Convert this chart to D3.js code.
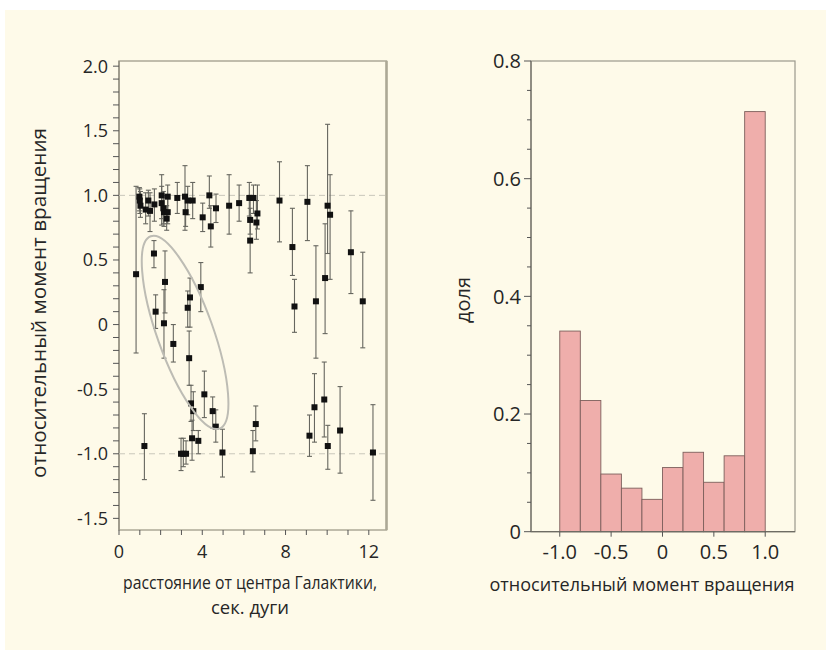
<!DOCTYPE html>
<html><head><meta charset="utf-8">
<script src="https://cdn.jsdelivr.net/npm/d3@7"></script>
<style>body{margin:0;background:#fff}</style>
</head><body><svg id="c" width="826" height="654"></svg>
<script>
// ---- data: left panel (distance, relative angular momentum, error bar bounds)
const pointX = [0.98,1.00,1.03,1.28,1.41,1.49,1.70,2.05,2.05,2.13,2.16,2.34,2.34,2.29,2.80,3.17,3.20,3.30,3.54,4.02,4.34,4.41,4.66,5.29,5.77,6.26,6.30,6.30,6.46,6.65,6.60,7.71,8.33,8.43,9.05,9.46,9.90,10.02,10.14,11.14,11.71,
  0.82,1.68,2.21,1.76,2.16,2.61,3.93,3.41,3.30,3.37,
  3.46,3.57,4.10,4.50,4.65,3.51,3.81,2.98,3.09,3.22,4.97,1.22,6.43,6.57,9.15,9.39,9.86,10.03,10.62,12.20];
const pointY = [0.99,0.96,0.92,0.89,0.96,0.88,0.93,1.00,0.94,0.90,0.87,0.99,0.87,0.82,0.98,0.99,0.87,0.96,0.96,0.83,1.00,0.76,0.90,0.92,0.94,0.98,0.81,0.65,0.98,0.86,0.79,0.96,0.60,0.14,0.95,0.18,0.36,0.92,0.85,0.56,0.18,
  0.39,0.55,0.33,0.10,0.01,-0.15,0.29,0.21,0.13,-0.26,
  -0.61,-0.67,-0.54,-0.67,-0.79,-0.88,-0.90,-1.00,-1.00,-1.00,-0.99,-0.94,-0.98,-0.77,-0.86,-0.64,-0.58,-0.94,-0.82,-0.99];
const errLow = [0.88,0.86,0.83,0.78,0.84,0.72,0.80,0.77,0.82,0.78,0.76,0.88,0.78,0.73,0.86,0.73,0.76,0.85,0.82,0.72,0.90,0.60,0.79,0.70,0.80,0.84,0.70,0.40,0.86,0.74,0.66,0.64,0.38,-0.06,0.65,-0.26,-0.07,0.55,0.35,0.24,-0.18,
  -0.22,0.44,0.09,-0.03,-0.26,-0.29,0.10,-0.02,-0.02,-0.47,
  -0.75,-0.82,-0.72,-0.80,-0.91,-1.05,-1.00,-1.13,-1.10,-1.08,-1.18,-1.20,-1.14,-0.90,-1.02,-0.91,-0.87,-1.12,-1.15,-1.36];
const errHigh = [1.06,1.05,1.03,1.02,1.04,1.02,1.05,1.16,1.07,1.03,1.00,1.08,0.98,0.92,1.10,1.23,0.98,1.07,1.10,0.94,1.15,0.92,1.01,1.16,1.08,1.10,1.00,0.90,1.08,1.08,0.96,1.26,0.90,0.35,1.23,0.61,0.78,1.55,1.16,0.88,0.56,
  1.07,0.65,0.57,0.23,0.27,0.00,0.48,0.36,0.26,-0.05,
  -0.47,-0.52,-0.36,-0.56,-0.66,-0.74,-0.82,-0.88,-0.88,-0.90,-0.81,-0.69,-0.82,-0.63,-0.70,-0.38,-0.29,-0.78,-0.48,-0.62];
const refLines = [1.0, -1.0];
const ellipseEnds = [[1.59, 0.654], [4.76, -0.776]];
const leftYTicks = [-1.5,-1.0,-0.5,0,0.5,1.0,1.5,2.0];
const leftYTickLabels = ["-1.5","-1.0","-0.5","0","0.5","1.0","1.5","2.0"];
const leftXTicks = [0,4,8,12];
const leftXTickLabels = ["0","4","8","12"];

// ---- data: right panel (histogram)
const binStart = [-1.0,-0.8,-0.6,-0.4,-0.2,0.0,0.2,0.4,0.6,0.8];
const binShare = [0.341,0.223,0.098,0.074,0.055,0.109,0.135,0.084,0.129,0.714];
const histXTicks = [-1,-0.5,0,0.5,1];
const histXTickLabels = ["-1.0","-0.5","0","0.5","1.0"];
const histYTicks = [0,0.2,0.4,0.6,0.8];
const histYTickLabels = ["0","0.2","0.4","0.6","0.8"];

const FONT = "'Open Sans', 'Noto Sans', sans-serif";
const TXT = "#262626";
const svg = d3.select("#c");
svg.append("rect").attr("x",5).attr("y",10).attr("width",821).attr("height",640).attr("fill","#fefae9");

// ---------- left panel
const xL = d3.scaleLinear().domain([0,12.85]).range([119,386.5]);
const yL = d3.scaleLinear().domain([-1.59,2.04]).range([530,61]);
const gL = svg.append("g");
gL.append("rect").attr("x",xL(0)).attr("y",yL(2.04)).attr("width",xL(12.85)-xL(0)).attr("height",yL(-1.59)-yL(2.04))
  .attr("fill","none").attr("stroke","#aca896").attr("stroke-width",1.5);
gL.append("line").attr("x1",xL(12.85)).attr("x2",xL(12.85)).attr("y1",yL(2.04)).attr("y2",yL(-1.59)).attr("stroke","#aca896").attr("stroke-width",2.5);
gL.append("line").attr("x1",xL(0)).attr("x2",xL(0)).attr("y1",yL(2.04)).attr("y2",yL(-1.59)).attr("stroke","#8a877a").attr("stroke-width",1.2);
// ref lines
gL.selectAll(".ref").data(refLines).enter().append("line")
  .attr("x1",xL(0)).attr("x2",xL(12.85)).attr("y1",d=>yL(d)).attr("y2",d=>yL(d))
  .attr("stroke","#c9c7bb").attr("stroke-width",1).attr("stroke-dasharray","6,4");
// y ticks
const yMinor = d3.range(-15,21).map(i=>i/10);
gL.selectAll(".yt").data(yMinor).enter().append("line")
  .attr("x1",xL(0)-6).attr("x2",xL(0)).attr("y1",d=>yL(d)).attr("y2",d=>yL(d)).attr("stroke","#555").attr("stroke-width",1);
gL.selectAll(".ytl").data(leftYTicks).enter().append("text")
  .attr("x",xL(0)-11).attr("y",d=>yL(d)).attr("dy","0.36em").attr("text-anchor","end")
  .attr("font-family",FONT).attr("font-size",18).attr("fill",TXT).text((d,i)=>leftYTickLabels[i]);
// x ticks
gL.selectAll(".xt").data(d3.range(0,13)).enter().append("line")
  .attr("x1",d=>xL(d)).attr("x2",d=>xL(d)).attr("y1",yL(-1.59)).attr("y2",yL(-1.59)+5).attr("stroke","#555").attr("stroke-width",1);
gL.selectAll(".xtl").data(leftXTicks).enter().append("text")
  .attr("x",d=>xL(d)).attr("y",558).attr("text-anchor","middle")
  .attr("font-family",FONT).attr("font-size",18).attr("fill",TXT).text((d,i)=>leftXTickLabels[i]);
// error bars
const idx = d3.range(pointX.length);
const eb = gL.append("g").attr("stroke","#66665f").attr("stroke-width",1.1);
eb.selectAll(".v").data(idx).enter().append("line")
  .attr("x1",i=>xL(pointX[i])).attr("x2",i=>xL(pointX[i])).attr("y1",i=>yL(errLow[i])).attr("y2",i=>yL(errHigh[i]));
eb.selectAll(".c1").data(idx).enter().append("line")
  .attr("x1",i=>xL(pointX[i])-2.5).attr("x2",i=>xL(pointX[i])+2.5).attr("y1",i=>yL(errLow[i])).attr("y2",i=>yL(errLow[i]));
eb.selectAll(".c2").data(idx).enter().append("line")
  .attr("x1",i=>xL(pointX[i])-2.5).attr("x2",i=>xL(pointX[i])+2.5).attr("y1",i=>yL(errHigh[i])).attr("y2",i=>yL(errHigh[i]));
// points
gL.selectAll(".pt").data(idx).enter().append("rect")
  .attr("x",i=>xL(pointX[i])-3).attr("y",i=>yL(pointY[i])-3).attr("width",6).attr("height",6).attr("fill","#111");
// ellipse
const p1 = [xL(ellipseEnds[0][0]), yL(ellipseEnds[0][1])];
const p2 = [xL(ellipseEnds[1][0]), yL(ellipseEnds[1][1])];
const cx = (p1[0]+p2[0])/2, cy = (p1[1]+p2[1])/2;
const semiMajor = Math.hypot(p2[0]-p1[0], p2[1]-p1[1])/2 + 4;
const ang = Math.atan2(p2[1]-p1[1], p2[0]-p1[0])*180/Math.PI;
gL.append("ellipse").attr("cx",0).attr("cy",0).attr("rx",semiMajor).attr("ry",28)
  .attr("transform",`translate(${cx},${cy}) rotate(${ang})`)
  .attr("fill","none").attr("stroke","#bdbcb4").attr("stroke-width",2);
// titles
svg.append("text").attr("transform","translate(46,303) rotate(-90)").attr("text-anchor","middle")
  .attr("font-family",FONT).attr("font-size",20).attr("fill",TXT)
  .attr("textLength",350).attr("lengthAdjust","spacingAndGlyphs").text("относительный момент вращения");
svg.append("text").attr("x",250).attr("y",589).attr("text-anchor","middle")
  .attr("font-family",FONT).attr("font-size",19).attr("fill",TXT)
  .attr("textLength",254).attr("lengthAdjust","spacingAndGlyphs").text("расстояние от центра Галактики,");
svg.append("text").attr("x",250).attr("y",614).attr("text-anchor","middle")
  .attr("font-family",FONT).attr("font-size",19).attr("fill",TXT)
  .attr("textLength",78).attr("lengthAdjust","spacingAndGlyphs").text("сек. дуги");

// ---------- right panel (histogram)
const xH = d3.scaleLinear().domain([-1.28,1.29]).range([531,795]);
const yH = d3.scaleLinear().domain([0,0.8]).range([531.7,61]);
const gH = svg.append("g");
gH.append("rect").attr("x",xH(-1.28)).attr("y",yH(0.8)).attr("width",xH(1.29)-xH(-1.28)).attr("height",yH(0)-yH(0.8))
  .attr("fill","none").attr("stroke","#9a988c").attr("stroke-width",1.2);
gH.selectAll(".bar").data(binStart).enter().append("rect")
  .attr("x",d=>xH(d)).attr("width",d=>xH(d+0.2)-xH(d))
  .attr("y",(d,i)=>yH(binShare[i])).attr("height",(d,i)=>yH(0)-yH(binShare[i]))
  .attr("fill","#efaeab").attr("stroke","#7d5f5c").attr("stroke-width",0.9);
gH.append("line").attr("x1",xH(-1.28)).attr("x2",xH(-1.28)).attr("y1",yH(0.8)).attr("y2",yH(0)).attr("stroke","#6e6c64").attr("stroke-width",1.2);
gH.append("line").attr("x1",xH(-1.28)).attr("x2",xH(1.29)).attr("y1",yH(0)).attr("y2",yH(0)).attr("stroke","#6e6c64").attr("stroke-width",1.2);
const hMinor = d3.range(0,17).map(i=>i*0.05);
gH.selectAll(".hyt").data(hMinor).enter().append("line")
  .attr("x1",(d,i)=>xH(-1.28)-(i%4===0?7:4)).attr("x2",xH(-1.28)).attr("y1",d=>yH(d)).attr("y2",d=>yH(d))
  .attr("stroke","#555").attr("stroke-width",1);
gH.selectAll(".hytl").data(histYTicks).enter().append("text")
  .attr("x",xH(-1.28)-10).attr("y",d=>yH(d)).attr("dy","0.36em").attr("text-anchor","end")
  .attr("font-family",FONT).attr("font-size",20).attr("fill",TXT).text((d,i)=>histYTickLabels[i]);
gH.selectAll(".hxt").data(histXTicks).enter().append("line")
  .attr("x1",d=>xH(d)).attr("x2",d=>xH(d)).attr("y1",yH(0)).attr("y2",yH(0)+5).attr("stroke","#555").attr("stroke-width",1);
gH.selectAll(".hxtl").data(histXTicks).enter().append("text")
  .attr("x",d=>xH(d)).attr("y",559).attr("text-anchor","middle")
  .attr("font-family",FONT).attr("font-size",20).attr("fill",TXT).text((d,i)=>histXTickLabels[i]);
svg.append("text").attr("transform","translate(470,300) rotate(-90)").attr("text-anchor","middle")
  .attr("font-family",FONT).attr("font-size",20).attr("fill",TXT).text("доля");
svg.append("text").attr("x",642).attr("y",591).attr("text-anchor","middle")
  .attr("font-family",FONT).attr("font-size",19).attr("fill",TXT)
  .attr("textLength",305).attr("lengthAdjust","spacingAndGlyphs").text("относительный момент вращения");
</script></body></html>
